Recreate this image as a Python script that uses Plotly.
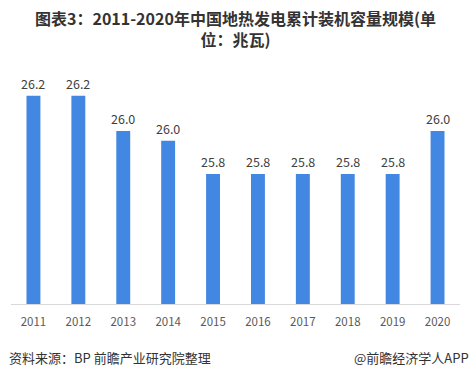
import plotly.graph_objects as go

years = ["2011", "2012", "2013", "2014", "2015", "2016", "2017", "2018", "2019", "2020"]
capacity = [26.2, 26.2, 26.02, 25.97, 25.8, 25.8, 25.8, 25.8, 25.8, 26.02]
labels = [f"{v:.1f}" for v in capacity]

title_line1 = "图表3：2011-2020年中国地热发电累计装机容量规模(单"
title_line2 = "位：兆瓦)"
source_text = "资料来源：BP 前瞻产业研究院整理"
brand_text = "@前瞻经济学人APP"

FONT = "Noto Sans CJK SC, Microsoft YaHei, sans-serif"

fig = go.Figure(go.Bar(
    x=years, y=capacity,
    marker=dict(color="#4287E1", line=dict(width=0)),
    cliponaxis=False, width=0.31, hoverinfo="skip",
))

W, H = 472, 378
ml, mr, mt, mb = 11, 12, 70, 74
ph = H - mt - mb

def py(p):
    return (H - mb - p) / ph

def px(p):
    return (p - ml) / (W - ml - mr)

annotations = [
    dict(text="<b>" + title_line1 + "<br>" + title_line2 + "</b>", x=px(235.5), y=py(28.5),
         xref="paper", yref="paper", align="center",
         xanchor="center", yanchor="middle", showarrow=False,
         font=dict(size=16, color="#333333", family=FONT)),
    dict(text=source_text, x=px(7), y=py(357), xref="paper", yref="paper",
         xanchor="left", yanchor="middle", showarrow=False,
         font=dict(size=13, color="#333333", family=FONT)),
    dict(text=brand_text, x=px(471), y=py(357), xref="paper", yref="paper",
         xanchor="right", yanchor="middle", showarrow=False,
         font=dict(size=13, color="#333333", family=FONT)),
]
# category axis: annotation x is the category index
for i, (v, lab) in enumerate(zip(capacity, labels)):
    annotations.append(dict(text=lab, x=i, y=v, xref="x", yref="y",
                            xanchor="center", yanchor="middle", yshift=12.5,
                            showarrow=False,
                            font=dict(size=12.5, color="#404040", family=FONT)))

fig.update_layout(
    width=W, height=H,
    margin=dict(l=ml, r=mr, t=mt, b=mb, autoexpand=False),
    plot_bgcolor="white", paper_bgcolor="white",
    showlegend=False,
    font=dict(family=FONT),
    xaxis=dict(type="category", categoryorder="array", categoryarray=years,
               showline=True, linecolor="#D9D9D9", linewidth=1, ticks="",
               tickfont=dict(size=11.5, color="#595959", family=FONT),
               ticklabelstandoff=7,
               showgrid=False, automargin=False),
    yaxis=dict(range=[25.136, 26.332], visible=False, showgrid=False),
    annotations=annotations,
)

fig.write_html("out.html", config={"displayModeBar": False},
               post_script="document.body.style.margin='0';document.body.style.padding='0';")
